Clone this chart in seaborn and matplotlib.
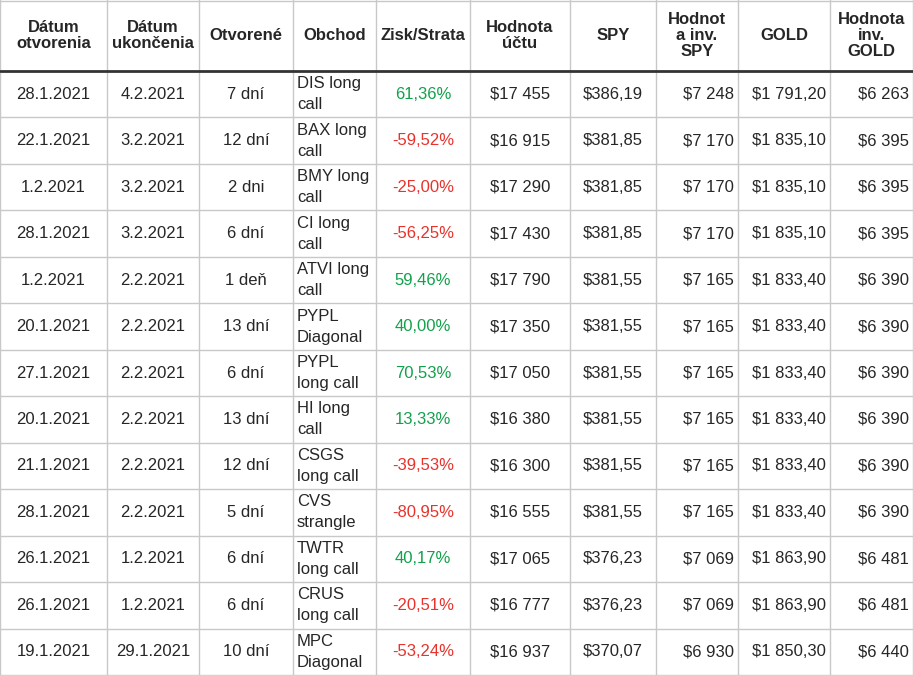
import matplotlib
matplotlib.use("Agg")
import matplotlib.pyplot as plt
import seaborn as sns

headers = ["Dátum\notvorenia", "Dátum\nukončenia", "Otvorené", "Obchod", "Zisk/Strata",
           "Hodnota\núčtu", "SPY", "Hodnot\na inv.\nSPY", "GOLD", "Hodnota\ninv.\nGOLD"]
opened = ["28.1.2021", "22.1.2021", "1.2.2021", "28.1.2021", "1.2.2021", "20.1.2021", "27.1.2021",
          "20.1.2021", "21.1.2021", "28.1.2021", "26.1.2021", "26.1.2021", "19.1.2021"]
closed = ["4.2.2021", "3.2.2021", "3.2.2021", "3.2.2021", "2.2.2021", "2.2.2021", "2.2.2021",
          "2.2.2021", "2.2.2021", "2.2.2021", "1.2.2021", "1.2.2021", "29.1.2021"]
days = ["7 dní", "12 dní", "2 dni", "6 dní", "1 deň", "13 dní", "6 dní", "13 dní", "12 dní",
        "5 dní", "6 dní", "6 dní", "10 dní"]
trade = ["DIS long\ncall", "BAX long\ncall", "BMY long\ncall", "CI long\ncall", "ATVI long\ncall",
         "PYPL\nDiagonal", "PYPL\nlong call", "HI long\ncall", "CSGS\nlong call", "CVS\nstrangle",
         "TWTR\nlong call", "CRUS\nlong call", "MPC\nDiagonal"]
pnl = [61.36, -59.52, -25.00, -56.25, 59.46, 40.00, 70.53, 13.33, -39.53, -80.95, 40.17, -20.51, -53.24]
account = ["$17 455", "$16 915", "$17 290", "$17 430", "$17 790", "$17 350", "$17 050", "$16 380",
           "$16 300", "$16 555", "$17 065", "$16 777", "$16 937"]
spy = ["$386,19", "$381,85", "$381,85", "$381,85", "$381,55", "$381,55", "$381,55", "$381,55",
       "$381,55", "$381,55", "$376,23", "$376,23", "$370,07"]
spy_inv = ["$7 248", "$7 170", "$7 170", "$7 170", "$7 165", "$7 165", "$7 165", "$7 165",
           "$7 165", "$7 165", "$7 069", "$7 069", "$6 930"]
gold = ["$1 791,20", "$1 835,10", "$1 835,10", "$1 835,10", "$1 833,40", "$1 833,40", "$1 833,40",
        "$1 833,40", "$1 833,40", "$1 833,40", "$1 863,90", "$1 863,90", "$1 850,30"]
gold_inv = ["$6 263", "$6 395", "$6 395", "$6 395", "$6 390", "$6 390", "$6 390", "$6 390",
            "$6 390", "$6 390", "$6 481", "$6 481", "$6 440"]

sns.set_style("white")
plt.rcParams['font.family'] = ['Liberation Sans', 'DejaVu Sans']

col_edges = [0, 107, 199, 293, 376, 470, 570, 656, 738, 830, 913]
header_h = 71
row_h = (675 - header_h) / 13

fig = plt.figure(figsize=(9.13, 6.75), dpi=100)
ax = fig.add_axes([0, 0, 1, 1])
ax.set_xlim(0, 913)
ax.set_ylim(675, 0)
ax.axis("off")

grid = "#c8c8c8"
for x in col_edges:
    ax.axvline(x, color=grid, lw=1)
for i in range(14):
    y = header_h + i * row_h
    ax.axhline(y, color=grid if i else "#333333", lw=1 if i else 2)
ax.axhline(0.5, color=grid, lw=1)

fs = 12
for j, h in enumerate(headers):
    cx = (col_edges[j] + col_edges[j + 1]) / 2
    ax.text(cx, header_h / 2, h, ha="center", va="center", fontsize=fs,
            fontweight="bold", linespacing=1.05)

for i in range(13):
    cy = header_h + (i + 0.5) * row_h
    cells = [opened[i], closed[i], days[i]]
    for j, t in enumerate(cells):
        ax.text((col_edges[j] + col_edges[j + 1]) / 2, cy, t, ha="center", va="center", fontsize=fs)
    ax.text(col_edges[3] + 4, cy, trade[i], ha="left", va="center", fontsize=fs, linespacing=1.5)
    v = pnl[i]
    ax.text((col_edges[4] + col_edges[5]) / 2, cy, f"{v:.2f}%".replace(".", ","), ha="center",
            va="center", fontsize=fs, color="#12a14b" if v > 0 else "#e8322b")
    ax.text((col_edges[5] + col_edges[6]) / 2, cy, account[i], ha="center", va="center", fontsize=fs)
    ax.text((col_edges[6] + col_edges[7]) / 2, cy, spy[i], ha="center", va="center", fontsize=fs)
    for j, t in zip([7, 8, 9], [spy_inv[i], gold[i], gold_inv[i]]):
        ax.text(col_edges[j + 1] - 4, cy, t, ha="right", va="center", fontsize=fs)

fig.savefig("out.png", dpi=100)
